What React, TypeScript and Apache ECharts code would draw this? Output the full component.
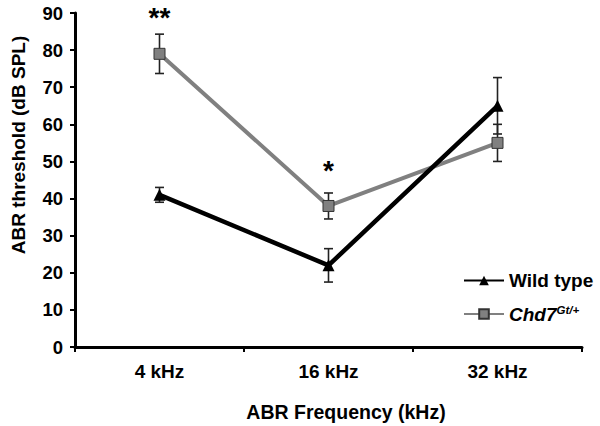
import React, { useEffect, useRef } from "react";
import * as echarts from "echarts";

const categories = ["4 kHz", "16 kHz", "32 kHz"];
const wildType = [41, 22, 65];
const wildTypeErr = [2, 4.5, 7.6];
const chd7 = [79, 38, 55];
const chd7Err = [5.3, 3.5, 5];
const sigIndex = [0, 1];
const sigValue = [88.8, 47.5];
const sigLabels = ["**", "*"];
const yTicks = { min: 0, max: 90, interval: 10 };

const FONT = "'Liberation Sans', Arial, Helvetica, sans-serif";

export default function App() {
  const ref = useRef<HTMLDivElement>(null);
  useEffect(() => {
    if (!ref.current) return;
    const chart = echarts.init(ref.current, undefined, { renderer: "svg" });

    const errData = (vals: number[], errs: number[]) =>
      vals.map((v, i) => [i, v - errs[i], v + errs[i]]);

    const errSeries = (name: string, vals: number[], errs: number[]) => ({
      type: "custom",
      name,
      data: errData(vals, errs),
      encode: { x: 0, y: [1, 2] },
      z: 1,
      silent: true,
      renderItem: (params: any, api: any) => {
        const x = api.value(0);
        const lo = api.coord([x, api.value(1)]);
        const hi = api.coord([x, api.value(2)]);
        const hw = 4.5;
        const style = { stroke: "#222", lineWidth: 1.6 };
        return {
          type: "group",
          children: [
            { type: "line", shape: { x1: lo[0], y1: lo[1], x2: hi[0], y2: hi[1] }, style },
            { type: "line", shape: { x1: lo[0] - hw, y1: lo[1], x2: lo[0] + hw, y2: lo[1] }, style },
            { type: "line", shape: { x1: hi[0] - hw, y1: hi[1], x2: hi[0] + hw, y2: hi[1] }, style },
          ],
        };
      },
    });

    chart.setOption({
      animation: false,
      grid: { left: 75, right: 18, top: 13, bottom: 79, containLabel: false },
      xAxis: {
        type: "category",
        data: categories,
        boundaryGap: true,
        axisLine: { show: true, lineStyle: { color: "#000", width: 3 } },
        axisTick: { show: true, inside: false, length: 5, lineStyle: { color: "#000", width: 2 } },
        axisLabel: { color: "#000", fontWeight: "bold", fontSize: 19, fontFamily: FONT, margin: 15 },
        splitLine: { show: false },
      },
      yAxis: {
        type: "value",
        min: yTicks.min,
        max: yTicks.max,
        interval: yTicks.interval,
        axisLine: { show: true, lineStyle: { color: "#000", width: 3 } },
        axisTick: { show: true, inside: false, length: 5, lineStyle: { color: "#000", width: 2 } },
        axisLabel: { color: "#000", fontWeight: "bold", fontSize: 18.5, fontFamily: FONT, margin: 12 },
        splitLine: { show: false },
      },
      legend: {
        orient: "vertical",
        left: 458,
        top: 266,
        itemWidth: 40,
        itemHeight: 12,
        itemGap: 14,
        data: ["Wild type", "Chd7"],
        formatter: (name: string) => (name === "Chd7" ? "{i|Chd7}{s|Gt/+}" : name),
        textStyle: {
          color: "#000",
          fontWeight: "bold",
          fontSize: 19,
          fontFamily: FONT,
          rich: {
            i: { fontStyle: "italic", fontWeight: "bold", fontSize: 19, fontFamily: FONT, color: "#000" },
            s: { fontStyle: "italic", fontWeight: "bold", fontSize: 11.5, fontFamily: FONT, color: "#000", verticalAlign: "top", padding: [0, 0, 8, 0] },
          },
        },
      },
      graphic: [
        {
          type: "text",
          x: 18,
          y: 145,
          rotation: Math.PI / 2,
          style: {
            text: "ABR threshold (dB SPL)",
            fontSize: 19,
            fontWeight: "bold",
            fontFamily: FONT,
            fill: "#000",
            align: "center",
            verticalAlign: "middle",
          },
        },
        {
          type: "text",
          x: 346,
          y: 412,
          style: {
            text: "ABR Frequency (kHz)",
            fontSize: 19.5,
            fontWeight: "bold",
            fontFamily: FONT,
            fill: "#000",
            align: "center",
            verticalAlign: "middle",
          },
        },
      ],
      series: [
        errSeries("wtErr", wildType, wildTypeErr),
        errSeries("chdErr", chd7, chd7Err),
        {
          type: "line",
          name: "Chd7",
          data: chd7,
          z: 3,
          symbol: "rect",
          symbolSize: 11,
          lineStyle: { color: "#808080", width: 4 },
          itemStyle: { color: "#808080", borderColor: "#333", borderWidth: 1 },
        },
        {
          type: "line",
          name: "Wild type",
          data: wildType,
          z: 4,
          symbol: "triangle",
          symbolSize: 12,
          lineStyle: { color: "#000", width: 4.5 },
          itemStyle: { color: "#000" },
        },
        {
          type: "custom",
          name: "sig",
          data: sigIndex.map((c, i) => [c, sigValue[i]]),
          encode: { x: 0, y: 1 },
          silent: true,
          z: 5,
          renderItem: (params: any, api: any) => {
            const p = api.coord([api.value(0), api.value(1)]);
            return {
              type: "text",
              x: p[0],
              y: p[1],
              style: {
                text: sigLabels[params.dataIndex],
                fill: "#000",
                fontSize: 28,
                fontWeight: "bold",
                fontFamily: FONT,
                align: "center",
                verticalAlign: "middle",
              },
            };
          },
        },
      ],
    });

    return () => chart.dispose();
  }, []);
  return (
    <div
      ref={ref}
      style={{ position: "fixed", left: 0, top: 0, width: 600, height: 426, background: "#fff" }}
    />
  );
}
